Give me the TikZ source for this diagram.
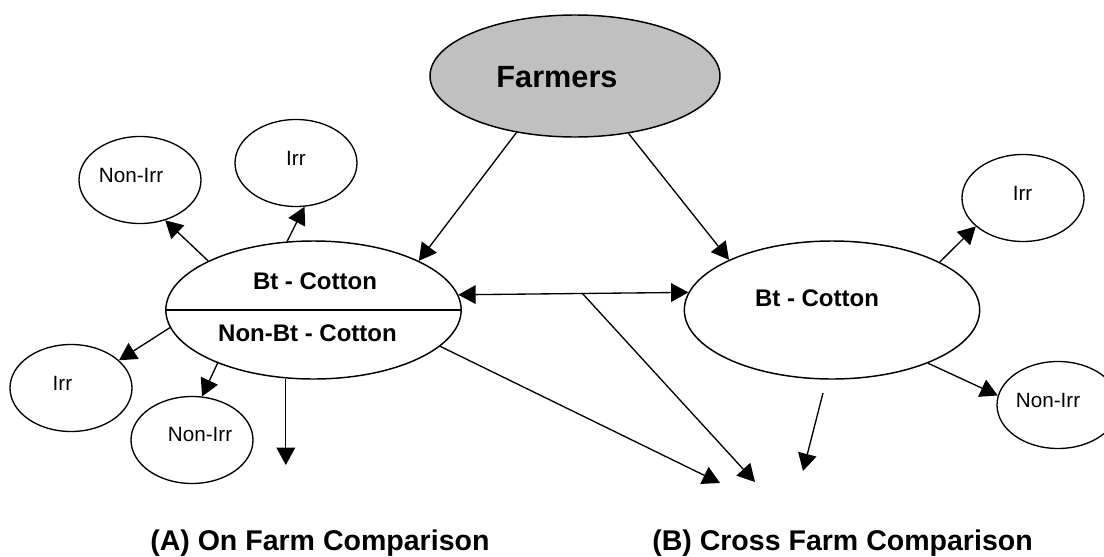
\documentclass[tikz,border=0pt]{standalone}
\usepackage{fontspec}
\setmainfont{Liberation Sans}
\usetikzlibrary{arrows.meta,shapes.geometric}
\definecolor{farmgray}{RGB}{192,192,192}
\begin{document}
\begin{tikzpicture}[x=0.75pt,y=-0.75pt,
  bigell/.style={ellipse,draw,line width=1.1pt,minimum width=221.5pt,minimum height=103.5pt,inner sep=0pt},
  smallell/.style={ellipse,draw,line width=1pt,minimum width=91.5pt,minimum height=65.25pt,inner sep=0pt},
  farmell/.style={ellipse,draw,line width=1.1pt,fill=farmgray,minimum width=217.5pt,minimum height=91.5pt,inner sep=0pt},
  farmtxt/.style={font=\fontsize{23}{26}\selectfont\bfseries,inner sep=0pt},
  bigtxt/.style={font=\fontsize{18}{20}\selectfont\bfseries,inner sep=0pt},
  smalltxt/.style={font=\fontsize{15.5}{17}\selectfont,inner sep=0pt},
  captxt/.style={font=\fontsize{21.4}{24}\selectfont\bfseries,inner sep=0pt,anchor=base west},
  conn/.style={line width=1pt,-{Triangle[length=13pt,width=14pt]}},
  dconn/.style={line width=1pt,{Triangle[length=13pt,width=14pt]}-{Triangle[length=13pt,width=14pt]}},
]
\useasboundingbox (0,0) rectangle (1104,557);

% main ellipses
\node[farmell] (farm) at (575,76) {};
\node[farmtxt] (farmT) at (557,77) {Farmers};

\node[bigell] (lbt) at (313.5,310) {};
\draw[line width=1.1pt] (lbt.west) -- (lbt.east);
\node[bigtxt] (lbtT) at (315,281) {Bt - Cotton};
\node[bigtxt] (lnbtT) at (307.5,333) {Non-Bt - Cotton};

\node[bigell] (rbt) at (832,310) {};
\node[bigtxt] (rbtT) at (817,298) {Bt - Cotton};

% small ellipses
\node[smallell] (nTL) at (140,180) {};
\node[smalltxt] (nTLT) at (131,175) {Non-Irr};
\node[smallell] (iT) at (296,163) {};
\node[smalltxt] (iTT) at (296,158) {Irr};
\node[smallell] (iL) at (71,388) {};
\node[smalltxt] (iLT) at (62.5,383) {Irr};
\node[smallell] (nB) at (192,440) {};
\node[smalltxt] (nBT) at (200,434) {Non-Irr};
\node[smallell] (iR) at (1023,198) {};
\node[smalltxt] (iRT) at (1022.5,193) {Irr};
\node[smallell] (nR) at (1058,405) {};
\node[smalltxt] (nRT) at (1048,400) {Non-Irr};

% captions
\node[captxt] (capA) at (150,550) {(A) On Farm Comparison};
\node[captxt] (capB) at (652,550) {(B) Cross Farm Comparison};

% free coordinates
\coordinate (mid) at (582,293);
\coordinate (cB1) at (755,482);
\coordinate (cB2) at (720,483);
\coordinate (b1) at (823,393);
\coordinate (b2) at (803,471);
\coordinate (aDown) at (287,465);

% connectors
\draw[conn] (farm.224.5) -- (lbt.25);
\draw[conn] (farm.313.6) -- (rbt.154.7);
\draw[dconn] (lbt.6.8) -- (rbt.173.2);
\draw[conn] (mid) -- (cB1);
\draw[conn] (lbt.344.8) -- (cB2);
\draw[conn] (b1) -- (b2);
\draw[conn] (lbt.248.7) -- (lbt.248.7 |- aDown);

\draw[conn] (lbt.155) -- (nTL.302.5);
\draw[conn] (lbt.111) -- (iT.281.6);
\draw[conn] (lbt.187) -- (iL.30.6);
\draw[conn] (lbt.209) -- (nB.77.5);
\draw[conn] (rbt.24.9) -- (iR.211);
\draw[conn] (rbt.331.6) -- (nR.171.7);
\end{tikzpicture}
\end{document}
